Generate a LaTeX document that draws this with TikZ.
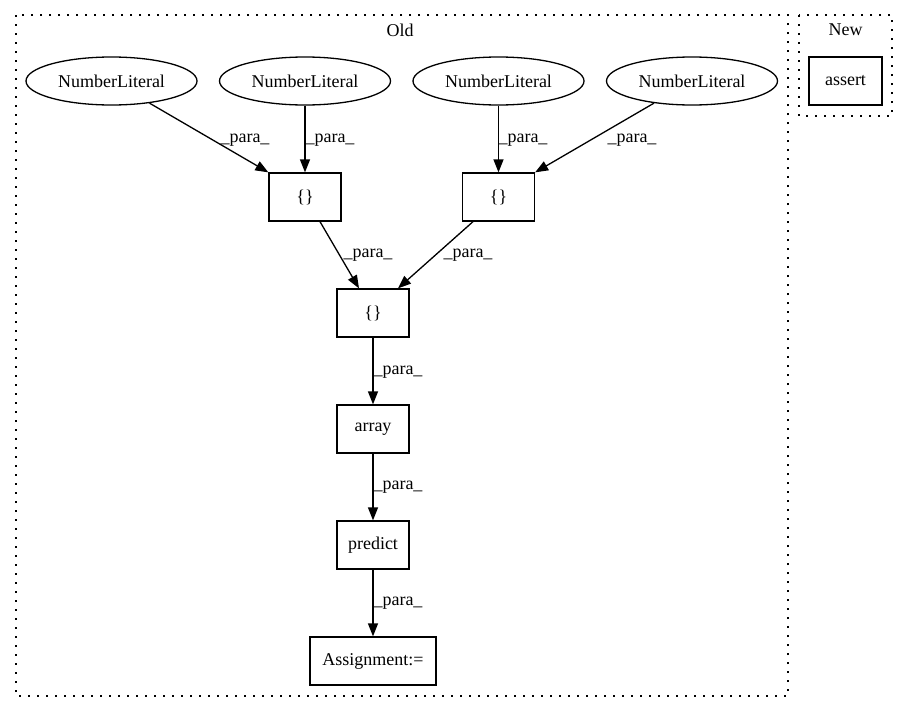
\documentclass[tikz,border=0pt]{standalone}
\usepackage{fontspec}
\setmainfont{Liberation Serif}
\usetikzlibrary{arrows.meta,shapes.geometric,calc}
\tikzset{
  every node/.style={font=\fontsize{18}{22}\selectfont},
  lit/.style={draw, ellipse, line width=1.3pt, minimum width=171pt, minimum height=48pt, inner sep=0pt},
  box/.style={draw, rectangle, line width=1.3pt, minimum width=72pt, minimum height=48pt, inner sep=0pt},
  cluster/.style={draw, line width=1.3pt, dash pattern=on 2pt off 7pt},
  conn/.style={line width=1.3pt, -{Triangle[length=13pt,width=10pt]}},
  lab/.style={inner sep=0pt}
}
\begin{document}
\begin{tikzpicture}[x=1pt,y=-1pt]
\useasboundingbox (0,0) rectangle (908,712);
% clusters
\draw[cluster] (16,15) rectangle (788,696);
\node (oldlabel) at (400,30) {Old};
\draw[cluster] (799,15) rectangle (892,116);
\node (newlabel) at (845.5,30) {New};
% nodes
\node[lit] (nl1) at (111.5,81) {NumberLiteral};
\node[lit] (nl2) at (305,81) {NumberLiteral};
\node[lit] (nl3) at (498.5,81) {NumberLiteral};
\node[lit] (nl4) at (692,81) {NumberLiteral};
\node[box] (b1) at (305,197) {\{\}};
\node[box] (b2) at (498.5,197) {\{\}};
\node[box] (b3) at (373,313) {\{\}};
\node[box] (arr) at (373,429) {array};
\node[box] (pred) at (373,545) {predict};
\node[box, minimum width=126pt] (asg) at (373,661) {Assignment:=};
\node[box, minimum width=73pt] (assert) at (845.5,81) {assert};
% connectors
\draw[conn] (nl1) -- (b1.north west) node[lab] at (245,140) {\_para\_};
\draw[conn] (nl2) -- (b1.north) node[lab] at (330,140) {\_para\_};
\draw[conn] (nl3) -- (b2.north) node[lab] at (523,140) {\_para\_};
\draw[conn] (nl4) -- (b2.north east) node[lab] at (632,140) {\_para\_};
\draw[conn] ([xshift=15pt]b1.south) -- ([xshift=-14pt]b3.north) node[lab] at (368,255) {\_para\_};
\draw[conn] ([xshift=-25.5pt]b2.south) -- ([xshift=25pt]b3.north) node[lab] at (468,255) {\_para\_};
\draw[conn] (b3) -- (arr) node[lab] at (398,372) {\_para\_};
\draw[conn] (arr) -- (pred) node[lab] at (398,487) {\_para\_};
\draw[conn] (pred) -- (asg) node[lab] at (398,603) {\_para\_};
\end{tikzpicture}
\end{document}
